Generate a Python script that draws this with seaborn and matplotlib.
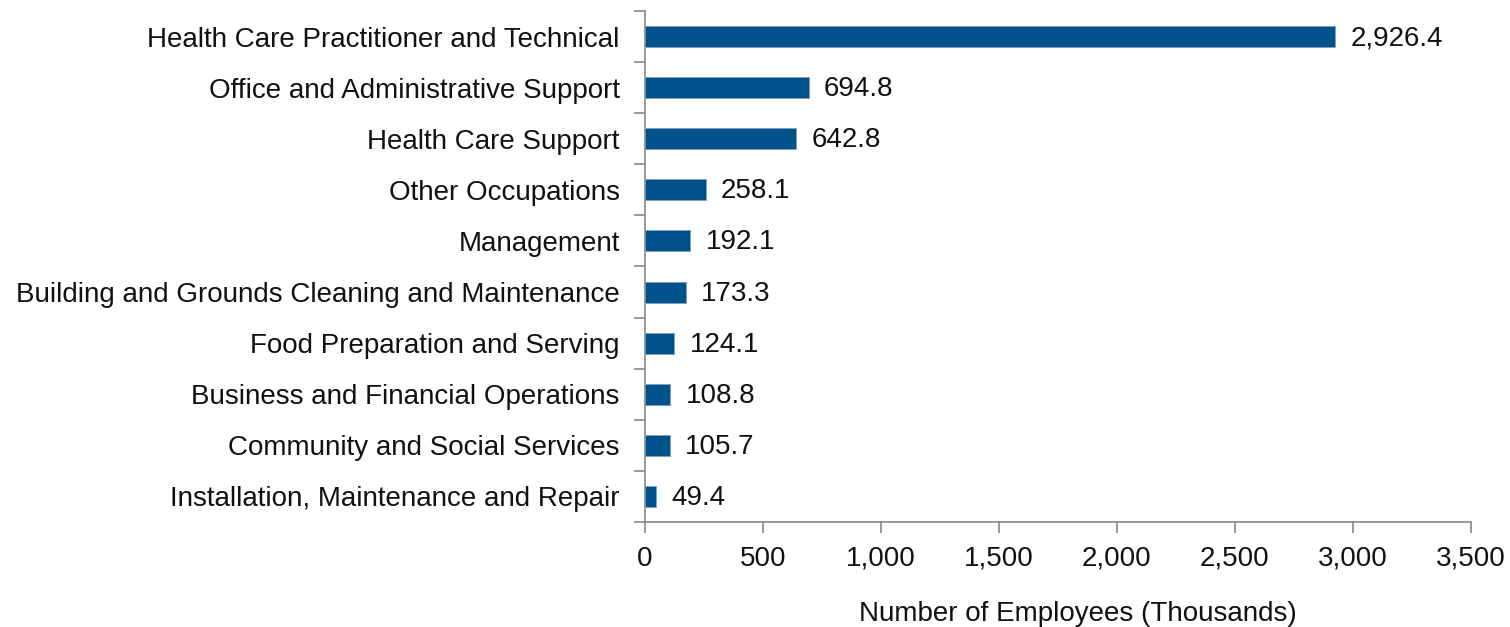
import numpy as np
import pandas as pd
import matplotlib
matplotlib.use("Agg")
import matplotlib.pyplot as plt
import seaborn as sns

occupations = [
    "Health Care Practitioner and Technical",
    "Office and Administrative Support",
    "Health Care Support",
    "Other Occupations",
    "Management",
    "Building and Grounds Cleaning and Maintenance",
    "Food Preparation and Serving",
    "Business and Financial Operations",
    "Community and Social Services",
    "Installation, Maintenance and Repair",
]
employees = [2926.4, 694.8, 642.8, 258.1, 192.1, 173.3, 124.1, 108.8, 105.7, 49.4]
x_ticks = [0, 500, 1000, 1500, 2000, 2500, 3000, 3500]

df = pd.DataFrame({"occupation": occupations, "employees": employees})

sns.set_style("white")
plt.rcParams["font.family"] = ["Liberation Sans", "DejaVu Sans"]
txt = "#111111"
fs = 20

fig = plt.figure(figsize=(15.1, 6.27), dpi=100)
ax = fig.add_axes([0.427, 0.1675, 0.547, 0.815])

sns.barplot(data=df, x="employees", y="occupation", orient="h",
            color="#00538a", saturation=1, width=0.41,
            edgecolor="#7f9fbf", linewidth=0.6, ax=ax)

for i, v in enumerate(employees):
    ax.text(v + 65, i + 0.03, f"{v:,.1f}", va="center", ha="left", fontsize=fs, color=txt)

ax.set_xlim(0, 3500)
ax.set_ylim(len(occupations) - 0.5, -0.5)
ax.set_xticks(x_ticks)
ax.set_xticklabels([f"{t:,}" for t in x_ticks], fontsize=fs, color=txt)
ax.tick_params(axis="x", length=8, color="#888888", width=1.2, pad=9, direction="out", bottom=True)

# category labels, ticks drawn at the boundaries between bars
ax.set_yticks(np.arange(len(occupations)))
ax.set_yticklabels(occupations, fontsize=fs, color=txt)
ax.tick_params(axis="y", length=0, pad=18, left=False)
ax.set_yticks(np.arange(len(occupations) + 1) - 0.5, minor=True)
ax.tick_params(axis="y", which="minor", length=8, color="#888888", width=1.2, left=True)

ax.set_xlabel("Number of Employees (Thousands)", fontsize=fs, color=txt, labelpad=21)
ax.xaxis.label.set_x(0.524)
ax.set_ylabel("")

for s in ["top", "right"]:
    ax.spines[s].set_visible(False)
for s in ["left", "bottom"]:
    ax.spines[s].set_color("#888888")
    ax.spines[s].set_linewidth(1.2)

fig.savefig("out.png", dpi=100)
